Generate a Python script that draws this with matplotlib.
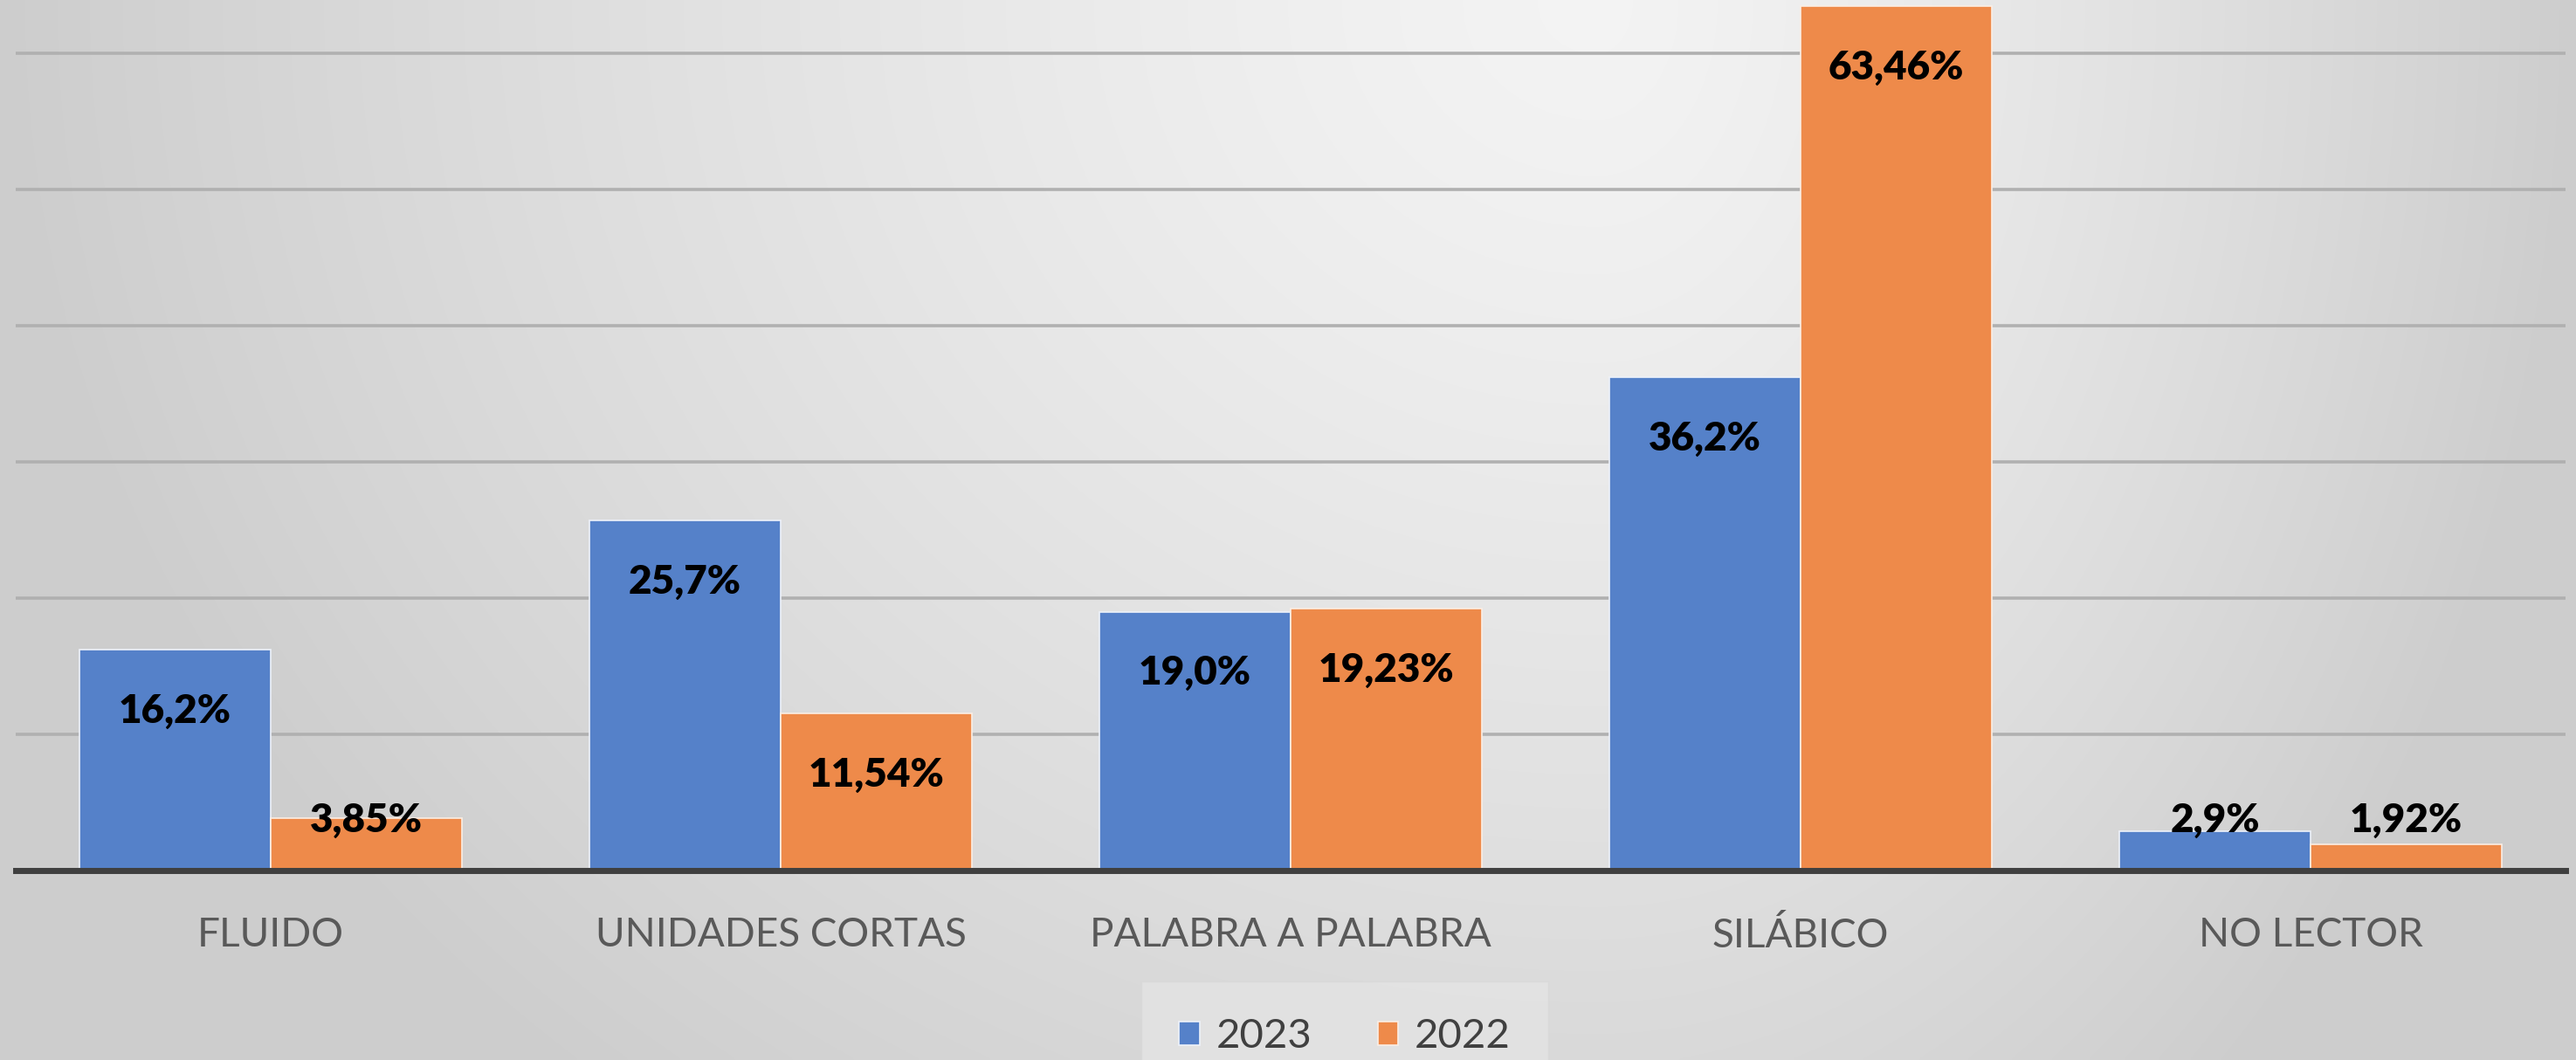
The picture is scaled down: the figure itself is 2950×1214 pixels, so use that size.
import matplotlib.pyplot as plt
import numpy as np

# datos
categorias = ['FLUIDO', 'UNIDADES CORTAS', 'PALABRA A PALABRA', 'SILÁBICO', 'NO LECTOR']
valores_2023 = [16.2, 25.7, 19.0, 36.2, 2.9]
valores_2022 = [3.85, 11.54, 19.23, 63.46, 1.92]
etiquetas_2023 = ['16,2%', '25,7%', '19,0%', '36,2%', '2,9%']
etiquetas_2022 = ['3,85%', '11,54%', '19,23%', '63,46%', '1,92%']
series = ['2023', '2022']

azul = '#5581C9'
naranja = '#EE8A4A'

plt.rcParams['font.family'] = ['Lato', 'DejaVu Sans']

fig = plt.figure(figsize=(29.5, 12.14), dpi=100)

# fondo con degradado gris
bg = fig.add_axes([0, 0, 1, 1], zorder=-10)
h, w = 300, 700
u = np.linspace(0, 1, w)[None, :]
v = np.linspace(0, 1, h)[:, None]
cx = 0.62
dx = np.where(u < cx, (u - cx) / cx, (u - cx) / (1 - cx))
d = np.sqrt(dx ** 2 + (0.75 * v) ** 2)
g = 0.955 - 0.15 * np.clip(d, 0, 1) ** 1.3
bg.imshow(np.dstack([g, g, g]), aspect='auto', extent=[0, 1, 0, 1], interpolation='bicubic')
bg.axis('off')

ax = fig.add_axes([18 / 2950, 217 / 1214, 2920 / 2950, 997 / 1214])
ax.patch.set_alpha(0)

x = np.arange(len(categorias))
ancho = 0.375
b1 = ax.bar(x - ancho / 2, valores_2023, ancho, color=azul, edgecolor='#eef2fa', linewidth=1.2, label=series[0], zorder=3)
b2 = ax.bar(x + ancho / 2, valores_2022, ancho, color=naranja, edgecolor='#fbeee4', linewidth=1.2, label=series[1], zorder=3)

ax.set_ylim(0, 63.9)
ax.set_xlim(-0.5, len(categorias) - 0.5)
ax.set_yticks(np.arange(10, 61, 10))
ax.yaxis.grid(True, color='#b0b0b0', linewidth=2.6, zorder=1)
ax.tick_params(axis='y', left=False, labelleft=False)

# etiquetas de datos (dentro del extremo de la barra)
for bars, etiquetas in [(b1, etiquetas_2023), (b2, etiquetas_2022)]:
    for bar, txt in zip(bars, etiquetas):
        val = bar.get_height()
        yy = max(val - 4.5, 3.7)
        ax.text(bar.get_x() + bar.get_width() / 2, yy, txt, ha='center', va='center',
                fontsize=33, fontweight='heavy', color='black', zorder=5)

ax.set_xticks(x)
ax.set_xticklabels(categorias, fontsize=33, color='#595959')
ax.tick_params(axis='x', length=0, pad=38)

for s in ['top', 'right', 'left']:
    ax.spines[s].set_visible(False)
ax.spines['bottom'].set_color('#3f3f3f')
ax.spines['bottom'].set_linewidth(5)
ax.spines['bottom'].set_zorder(4)

leg = fig.legend(handles=[b1, b2], labels=series, loc='center', bbox_to_anchor=(1540 / 2950, 1 - 1187 / 1214),
                 ncol=2, fontsize=34, frameon=True, handlelength=0.5, handleheight=0.5,
                 handletextpad=0.4, columnspacing=1.6, borderpad=0.6)
leg.get_frame().set_facecolor('#e4e4e4')
leg.get_frame().set_edgecolor('#d8d8d8')
leg.get_frame().set_boxstyle('square')
for t in leg.get_texts():
    t.set_color('#404040')

fig.savefig('out.png', dpi=100)
